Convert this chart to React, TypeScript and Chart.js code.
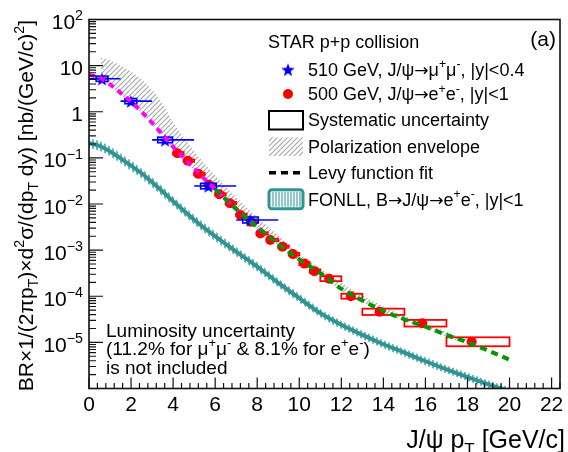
import React, { useEffect, useRef } from 'react';
import { Chart, registerables } from 'chart.js';
Chart.register(...registerables);

const FONT = '"Liberation Sans", Arial, Helvetica, sans-serif';
const ARROW_FONT = '"DejaVu Sans", "Liberation Sans", sans-serif';

// axes
const xMin = 0;
const xMax = 22.4;
const yMin = 1e-6;
const yMax = 100;
const xTickLabels = ['0', '2', '4', '6', '8', '10', '12', '14', '16', '18', '20', '22'];
const yTickExponents = [2, 1, 0, -1, -2, -3, -4, -5];

// 510 GeV, J/psi -> mu+ mu-
const starPt = [0.62, 1.99, 3.62, 5.68, 7.68];
const starVal = [5.2, 1.7, 0.245, 0.0245, 0.0045];
const starBinLo = [0, 1.5, 3, 5, 7];
const starBinHi = [1.5, 3, 5, 7, 9];
const starBoxHalf = [0.28, 0.28, 0.35, 0.37, 0.37];
const starSys = [0.14, 0.14, 0.15, 0.15, 0.16];

// 500 GeV, J/psi -> e+ e-
const redPt = [4.2, 4.7, 5.2, 5.7, 6.2, 6.7, 7.2, 7.7, 8.15, 8.62, 9.2, 9.7, 10.25, 10.72, 11.42, 12.45, 13.82, 15.85, 18.2];
const redVal = [0.126, 0.087, 0.045, 0.026, 0.0162, 0.0104, 0.0058, 0.0041, 0.0023, 0.00166, 0.00119, 8.2e-4, 5.1e-4, 3.5e-4, 2.4e-4, 1.0e-4, 4.6e-5, 2.6e-5, 1.03e-5];
const redBinLo = [4, 4.5, 5, 5.5, 6, 6.5, 7, 7.5, 8, 8.5, 9, 9.5, 10, 10.5, 11, 12, 13, 15, 17];
const redBinHi = [4.5, 5, 5.5, 6, 6.5, 7, 7.5, 8, 8.5, 9, 9.5, 10, 10.5, 11, 12, 13, 15, 17, 20];
const redSys = [0.06, 0.06, 0.06, 0.06, 0.06, 0.06, 0.06, 0.06, 0.06, 0.06, 0.06, 0.07, 0.08, 0.09, 0.13, 0.13, 0.17, 0.18, 0.25];

// Levy fits
const magPt = [0, 0.5, 1, 1.5, 2, 2.5, 3, 3.5, 4, 4.5, 5, 5.5, 6, 6.5, 7, 7.5, 8, 8.5];
const magVal = [6.3, 5.5, 3.9, 2.57, 1.66, 1.0, 0.575, 0.316, 0.174, 0.1, 0.059, 0.0347, 0.0209, 0.0126, 0.00776, 0.0049, 0.00316, 0.00204];
const greenPt = [6, 7, 8, 9, 10, 11, 12, 13, 14, 15, 16, 17, 18, 19, 20];
const greenVal = [0.0209, 0.00776, 0.00316, 0.00135, 6.3e-4, 3.16e-4, 1.45e-4, 8.1e-5, 4.8e-5, 3.16e-5, 2.19e-5, 1.45e-5, 1.0e-5, 6.6e-6, 4.2e-6];

// Polarization envelope
const envPt = [0.55, 1, 1.5, 2, 2.5, 3, 3.5, 4, 4.5, 5, 5.5, 6, 6.5, 7, 7.5, 8, 9, 10, 11, 12, 13, 14, 15, 16, 17, 18];
const envHi = [15, 13, 10, 7.5, 5, 3, 1.5, 0.6, 0.28, 0.14, 0.075, 0.042, 0.024, 0.014, 0.0085, 0.0052, 0.0021, 8.5e-4, 4.0e-4, 1.95e-4, 1.05e-4, 6.0e-5, 3.8e-5, 2.55e-5, 1.7e-5, 1.15e-5];
const envLo = [5.0, 3.6, 2.35, 1.52, 0.92, 0.53, 0.29, 0.16, 0.092, 0.054, 0.032, 0.019, 0.0116, 0.0071, 0.0045, 0.0029, 0.00124, 5.8e-4, 2.9e-4, 1.33e-4, 7.4e-5, 4.4e-5, 2.9e-5, 2.0e-5, 1.33e-5, 9.2e-6];

// FONLL
const fonllPt = [0, 0.5, 1, 1.5, 2, 2.5, 3, 3.5, 4, 5, 6, 7, 8, 9, 10, 11, 12, 13, 14, 15, 16, 17, 18, 19, 20];
const fonllVal = [0.209, 0.182, 0.138, 0.0977, 0.0676, 0.0463, 0.0295, 0.0186, 0.0115, 0.00457, 0.002, 9.3e-4, 4.4e-4, 1.95e-4, 9.1e-5, 4.3e-5, 2.4e-5, 1.45e-5, 9.1e-6, 6.0e-6, 3.9e-6, 2.6e-6, 1.78e-6, 1.23e-6, 8.7e-7];
const fonllHi = [0.268, 0.233, 0.177, 0.125, 0.0865, 0.059, 0.0376, 0.0237, 0.0146, 0.0058, 0.00253, 0.00117, 5.5e-4, 2.43e-4, 1.13e-4, 5.3e-5, 2.95e-5, 1.78e-5, 1.11e-5, 7.3e-6, 4.75e-6, 3.17e-6, 2.17e-6, 1.5e-6, 1.06e-6];
const fonllLo = [0.163, 0.142, 0.108, 0.0763, 0.0528, 0.0362, 0.0231, 0.0146, 0.009, 0.0036, 0.00158, 7.4e-4, 3.5e-4, 1.57e-4, 7.3e-5, 3.5e-5, 1.95e-5, 1.19e-5, 7.5e-6, 4.9e-6, 3.2e-6, 2.13e-6, 1.46e-6, 1.01e-6, 7.1e-7];

const BLUE = 'rgb(0,0,255)';
const RED = 'rgb(255,0,0)';
const MAGENTA = 'rgb(255,0,255)';
const GREEN = 'rgb(0,150,0)';
const TEAL = 'rgb(48,148,148)';
const TEAL_LIGHT = 'rgba(70,165,165,0.8)';

type Seg = [string, number]; // 0 normal, 1 sup, 2 sub, 3 arrow

const yTitle: Seg[] = [['BR×1/(2πp', 0], ['T', 2], [')×d', 0], ['2', 1], ['σ/(dp', 0], ['T', 2], [' dy) [nb/(GeV/c)', 0], ['2', 1], [']', 0]];
const xTitle: Seg[] = [['J/ψ p', 0], ['T', 2], [' [GeV/c]', 0]];
const legendTitle: Seg[] = [['STAR p+p collision', 0]];
const legendRows: Seg[][] = [
  [['510 GeV, J/ψ', 0], ['→', 3], ['μ', 0], ['+', 1], ['μ', 0], ['-', 1], [', |y|<0.4', 0]],
  [['500 GeV, J/ψ', 0], ['→', 3], ['e', 0], ['+', 1], ['e', 0], ['-', 1], [', |y|<1', 0]],
  [['Systematic uncertainty', 0]],
  [['Polarization envelope', 0]],
  [['Levy function fit', 0]],
  [['FONLL, B', 0], ['→', 3], ['J/ψ', 0], ['→', 3], ['e', 0], ['+', 1], ['e', 0], ['-', 1], [', |y|<1', 0]],
];
const lumiLines: Seg[][] = [
  [['Luminosity uncertainty', 0]],
  [['(11.2% for μ', 0], ['+', 1], ['μ', 0], ['-', 1], [' & 8.1% for e', 0], ['+', 1], ['e', 0], ['-', 1], [')', 0]],
  [['is not included', 0]],
];

function segFont(size: number, mode: number) {
  if (mode === 3) return `${size * 0.95}px ${ARROW_FONT}`;
  const s = mode ? size * 0.68 : size;
  return `${s}px ${FONT}`;
}
function measureRich(ctx: CanvasRenderingContext2D, segs: Seg[], size: number) {
  let w = 0;
  for (const [t, m] of segs) {
    ctx.font = segFont(size, m);
    w += ctx.measureText(t).width;
  }
  return w;
}
function drawRich(ctx: CanvasRenderingContext2D, segs: Seg[], x: number, yMid: number, size: number, align: string) {
  const w = measureRich(ctx, segs, size);
  let cx = align === 'left' ? x : align === 'right' ? x - w : x - w / 2;
  const base = yMid + size * 0.36;
  ctx.textBaseline = 'alphabetic';
  ctx.textAlign = 'left';
  for (const [t, m] of segs) {
    ctx.font = segFont(size, m);
    const dy = m === 1 ? -size * 0.42 : m === 2 ? size * 0.28 : 0;
    ctx.fillText(t, cx, base + dy);
    cx += ctx.measureText(t).width;
  }
}

function makeStar(r: number, color: string) {
  const c = document.createElement('canvas');
  const s = Math.ceil(r * 2 + 2);
  c.width = s;
  c.height = s;
  const g = c.getContext('2d')!;
  g.fillStyle = color;
  g.beginPath();
  for (let i = 0; i < 10; i++) {
    const a = -Math.PI / 2 + (i * Math.PI) / 5;
    const rr = i % 2 === 0 ? r : r * 0.42;
    g.lineTo(s / 2 + rr * Math.cos(a), s / 2 + 1 + rr * Math.sin(a));
  }
  g.closePath();
  g.fill();
  return c;
}

function makeDiag(ctx: CanvasRenderingContext2D) {
  const s = 5;
  const c = document.createElement('canvas');
  c.width = s;
  c.height = s;
  const g = c.getContext('2d')!;
  g.strokeStyle = 'rgb(165,165,165)';
  g.lineWidth = 1.1;
  g.beginPath();
  g.moveTo(0, s);
  g.lineTo(s, 0);
  g.moveTo(-1, 1);
  g.lineTo(1, -1);
  g.moveTo(s - 1, s + 1);
  g.lineTo(s + 1, s - 1);
  g.stroke();
  return ctx.createPattern(c, 'repeat')!;
}

function makeVert(ctx: CanvasRenderingContext2D) {
  const c = document.createElement('canvas');
  c.width = 4;
  c.height = 4;
  const g = c.getContext('2d')!;
  g.fillStyle = TEAL_LIGHT;
  g.fillRect(0, 0, 2, 4);
  return ctx.createPattern(c, 'repeat')!;
}

const pts = (xs: number[], ys: number[]) => xs.map((x, i) => ({ x, y: ys[i] }));

export default function App() {
  const ref = useRef<HTMLCanvasElement>(null);
  useEffect(() => {
    document.body.style.margin = '0';
    const canvas = ref.current!;
    const ctx0 = canvas.getContext('2d')!;
    const diag = makeDiag(ctx0);
    const vert = makeVert(ctx0);
    const starImg = makeStar(7, BLUE);

    const plugin = {
      id: 'rootStyle',
      beforeDatasetDraw(chart: any, args: any) {
        const { ctx, chartArea: a } = chart;
        const x = chart.scales.x;
        const y = chart.scales.y;
        ctx.save();
        ctx.beginPath();
        ctx.rect(a.left, a.top, a.right - a.left, a.bottom - a.top);
        ctx.clip();
        if (args.index === 5) {
          ctx.strokeStyle = RED;
          ctx.lineWidth = 1.8;
          for (let i = 0; i < redPt.length; i++) {
            const x0 = x.getPixelForValue(redBinLo[i]);
            const x1 = x.getPixelForValue(redBinHi[i]);
            const y0 = y.getPixelForValue(redVal[i] * (1 + redSys[i]));
            const y1 = y.getPixelForValue(redVal[i] / (1 + redSys[i]));
            ctx.strokeRect(x0, y0, x1 - x0, y1 - y0);
          }
        }
        if (args.index === 6) {
          ctx.strokeStyle = BLUE;
          ctx.lineWidth = 1.6;
          for (let i = 0; i < starPt.length; i++) {
            const yc = y.getPixelForValue(starVal[i]);
            ctx.beginPath();
            ctx.moveTo(x.getPixelForValue(starBinLo[i]), yc);
            ctx.lineTo(x.getPixelForValue(starBinHi[i]), yc);
            ctx.stroke();
            const x0 = x.getPixelForValue(starPt[i] - starBoxHalf[i]);
            const x1 = x.getPixelForValue(starPt[i] + starBoxHalf[i]);
            const y0 = y.getPixelForValue(starVal[i] * (1 + starSys[i]));
            const y1 = y.getPixelForValue(starVal[i] / (1 + starSys[i]));
            ctx.strokeRect(x0, y0, x1 - x0, y1 - y0);
          }
        }
        ctx.restore();
      },
      afterDraw(chart: any) {
        const { ctx, chartArea: a } = chart;
        const x = chart.scales.x;
        const y = chart.scales.y;
        ctx.save();
        // frame
        ctx.strokeStyle = '#111';
        ctx.lineWidth = 1.6;
        ctx.strokeRect(a.left, a.top, a.right - a.left, a.bottom - a.top);
        // x ticks
        ctx.lineWidth = 1.2;
        ctx.beginPath();
        for (let k = 0; k <= 56; k++) {
          const v = k * 0.4;
          if (v > xMax + 1e-9) break;
          const px = x.getPixelForValue(v);
          const len = k % 5 === 0 ? 11 : 5.5;
          ctx.moveTo(px, a.bottom);
          ctx.lineTo(px, a.bottom - len);
        }
        // y ticks
        for (let e = -6; e <= 2; e++) {
          for (let m = 1; m <= 9; m++) {
            const v = m * Math.pow(10, e);
            if (v < yMin * 0.999 || v > yMax * 1.001) continue;
            const py = y.getPixelForValue(v);
            const len = m === 1 ? 14 : 7;
            ctx.moveTo(a.left, py);
            ctx.lineTo(a.left + len, py);
          }
        }
        ctx.stroke();
        ctx.fillStyle = '#000';
        // x tick labels
        xTickLabels.forEach((lab) => {
          const px = x.getPixelForValue(parseFloat(lab));
          drawRich(ctx, [[lab, 0]], px, 403, 21, 'center');
        });
        // y tick labels
        yTickExponents.forEach((e) => {
          const py = y.getPixelForValue(Math.pow(10, e));
          let segs: Seg[];
          if (e === 1) segs = [['10', 0]];
          else if (e === 0) segs = [['1', 0]];
          else segs = [['10', 0], [e < 0 ? '−' + Math.abs(e) : String(e), 1]];
          drawRich(ctx, segs, 83, py + 2, 21, 'right');
        });
        // axis titles
        drawRich(ctx, xTitle, 565, 439, 25, 'right');
        ctx.save();
        ctx.translate(25, 20);
        ctx.rotate(-Math.PI / 2);
        drawRich(ctx, yTitle, 0, 0, 21, 'right');
        ctx.restore();
        // (a)
        drawRich(ctx, [['(a)', 0]], 556, 38, 21, 'right');
        // legend
        const lx = 269;
        const lw = 34;
        const tx = 308;
        const rowsY = [69.3, 94, 120, 146.7, 172.7, 199.3];
        drawRich(ctx, legendTitle, 268, 41.7, 18, 'left');
        legendRows.forEach((segs, i) => drawRich(ctx, segs, tx, rowsY[i], 18, 'left'));
        // symbols
        ctx.drawImage(starImg, 288 - starImg.width / 2, rowsY[0] - starImg.height / 2);
        ctx.fillStyle = RED;
        ctx.beginPath();
        ctx.arc(288, rowsY[1], 5, 0, Math.PI * 2);
        ctx.fill();
        ctx.strokeStyle = '#000';
        ctx.lineWidth = 2;
        ctx.strokeRect(lx, rowsY[2] - 9, lw, 18.5);
        ctx.fillStyle = diag;
        ctx.fillRect(lx, rowsY[3] - 9.3, lw, 18.6);
        ctx.setLineDash([7, 5]);
        ctx.lineWidth = 3.5;
        ctx.beginPath();
        ctx.moveTo(lx, rowsY[4]);
        ctx.lineTo(lx + lw, rowsY[4]);
        ctx.stroke();
        ctx.setLineDash([]);
        // FONLL legend box
        const by = rowsY[5] - 9.5;
        ctx.strokeStyle = TEAL_LIGHT;
        ctx.lineWidth = 1.5;
        ctx.beginPath();
        for (let xx = lx + 4; xx < lx + lw - 2; xx += 3) {
          ctx.moveTo(xx, by + 2);
          ctx.lineTo(xx, by + 17);
        }
        ctx.stroke();
        ctx.strokeStyle = TEAL;
        ctx.lineWidth = 3;
        ctx.beginPath();
        (ctx as any).roundRect(lx, by, lw, 19, 3);
        ctx.stroke();
        // luminosity text
        ctx.fillStyle = '#000';
        const lumY = [330, 348.3, 366.7];
        lumiLines.forEach((segs, i) => drawRich(ctx, segs, 106, lumY[i], 19, 'left'));
        ctx.restore();
      },
    };

    const chart = new Chart(canvas, {
      type: 'line',
      data: {
        datasets: [
          { label: 'envHi', data: pts(envPt, envHi), borderWidth: 0, pointRadius: 0, fill: { target: 1 }, backgroundColor: diag, cubicInterpolationMode: 'monotone', order: 10 } as any,
          { label: 'envLo', data: pts(envPt, envLo), borderWidth: 0, pointRadius: 0, fill: false, cubicInterpolationMode: 'monotone', order: 11 },
          { label: 'fonllHi', data: pts(fonllPt, fonllHi), borderWidth: 0, pointRadius: 0, fill: { target: 3 }, backgroundColor: vert, cubicInterpolationMode: 'monotone', order: 8 } as any,
          { label: 'fonllLo', data: pts(fonllPt, fonllLo), borderWidth: 0, pointRadius: 0, fill: false, cubicInterpolationMode: 'monotone', order: 9 },
          { label: 'FONLL', data: pts(fonllPt, fonllVal), borderColor: TEAL, borderWidth: 4, pointRadius: 0, fill: false, cubicInterpolationMode: 'monotone', order: 7 },
          { label: '500 GeV', data: pts(redPt, redVal), showLine: false, pointStyle: 'circle', pointRadius: 5, backgroundColor: RED, borderColor: RED, borderWidth: 0, order: 5 },
          { label: '510 GeV', data: pts(starPt, starVal), showLine: false, pointStyle: starImg as any, pointRadius: 7, order: 4 },
          { label: 'Levy 510', data: pts(magPt, magVal), borderColor: MAGENTA, borderWidth: 4, borderDash: [6, 5], pointRadius: 0, fill: false, cubicInterpolationMode: 'monotone', order: 2 },
          { label: 'Levy 500', data: pts(greenPt, greenVal), borderColor: GREEN, borderWidth: 4, borderDash: [7, 5], pointRadius: 0, fill: false, cubicInterpolationMode: 'monotone', order: 1 },
        ],
      },
      options: {
        responsive: false,
        animation: false,
        events: [],
        layout: { padding: { left: 89, right: 4, top: 19.5, bottom: 63.5 } },
        scales: {
          x: { type: 'linear', min: xMin, max: xMax, display: false },
          y: { type: 'logarithmic', min: yMin, max: yMax, display: false },
        },
        plugins: { legend: { display: false }, tooltip: { enabled: false } },
      },
      plugins: [plugin],
    });
    return () => chart.destroy();
  }, []);
  return (
    <div style={{ width: 568, height: 452 }}>
      <canvas ref={ref} width={568} height={452} style={{ display: 'block' }} />
    </div>
  );
}
